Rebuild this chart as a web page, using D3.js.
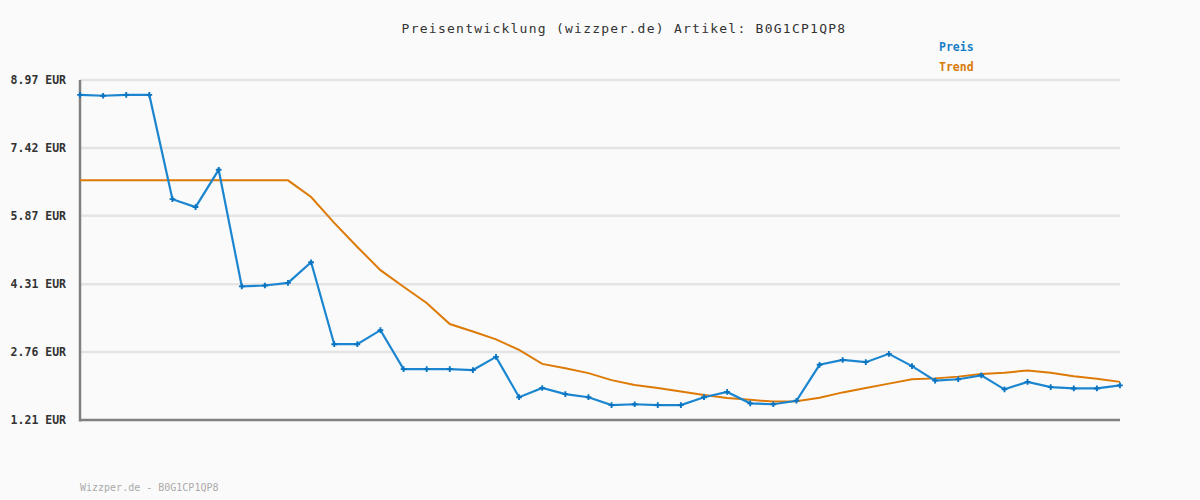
<!DOCTYPE html>
<html>
<head>
<meta charset="utf-8">
<script src="https://cdn.jsdelivr.net/npm/d3@7"></script>
<style>
  html, body { margin: 0; padding: 0; background: #fafafa; }
  svg { display: block; font-family: "DejaVu Sans Mono", monospace; }
</style>
</head>
<body>
<script>
  // price points, one per sample
  const preis = [
    8.63, 8.61, 8.63, 8.63, 6.25, 6.07, 6.92, 4.26, 4.28, 4.34,
    4.81, 2.94, 2.94, 3.26, 2.37, 2.37, 2.37, 2.35, 2.65, 1.73,
    1.94, 1.80, 1.73, 1.55, 1.57, 1.55, 1.55, 1.73, 1.85, 1.59,
    1.57, 1.65, 2.47, 2.58, 2.53, 2.72, 2.44, 2.11, 2.14, 2.23,
    1.91, 2.08, 1.96, 1.93, 1.93, 2.00
  ];
  const trend = [
    6.68, 6.68, 6.68, 6.68, 6.68, 6.68, 6.68, 6.68, 6.68, 6.68,
    6.30, 5.71, 5.16, 4.63, 4.25, 3.88, 3.40, 3.23, 3.05, 2.81,
    2.49, 2.39, 2.28, 2.12, 2.01, 1.94, 1.86, 1.78, 1.71, 1.67,
    1.63, 1.64, 1.72, 1.84, 1.94, 2.04, 2.14, 2.16, 2.20, 2.26,
    2.29, 2.34, 2.29, 2.21, 2.15, 2.08
  ];
  const yTicks = [1.21, 2.76, 4.31, 5.87, 7.42, 8.97];
  const seriesNames = ['Preis', 'Trend'];

(function() {
  'use strict';

  const w = 1200;
  const h = 500;
  const pLeft = 80, pRight = 1120, pTop = 80, pBottom = 420;
  const blue = '#1b86cf';
  const orange = '#dd7a06';

  const svg = d3.select('body').append('svg')
    .attr('width', w)
    .attr('height', h);

  const x = d3.scaleLinear().domain([0, preis.length - 1]).range([pLeft, pRight]);
  const y = d3.scaleLinear().domain([1.21, 8.97]).range([pBottom, pTop]);

  // grid lines
  svg.append('g')
    .selectAll('line')
    .data(yTicks.slice(1))
    .enter()
    .append('line')
    .attr('x1', pLeft)
    .attr('x2', pRight)
    .attr('y1', d => y(d))
    .attr('y2', d => y(d))
    .attr('stroke', '#e4e4e4')
    .attr('stroke-width', 2.5);

  // y axis labels
  const yAxis = d3.axisLeft(y)
    .tickValues(yTicks)
    .tickSize(0)
    .tickPadding(14)
    .tickFormat(d => d3.format('.2f')(d) + ' EUR');
  const gy = svg.append('g')
    .attr('transform', 'translate(' + pLeft + ',0)')
    .call(yAxis);
  gy.select('.domain').remove();
  gy.selectAll('text')
    .attr('font-family', '"DejaVu Sans Mono", monospace')
    .attr('font-size', 11.5)
    .attr('font-weight', 'bold')
    .attr('fill', '#333');

  // axis lines
  svg.append('line')
    .attr('x1', pLeft).attr('x2', pLeft)
    .attr('y1', pTop).attr('y2', pBottom + 1.5)
    .attr('stroke', '#808080').attr('stroke-width', 2.5);
  svg.append('line')
    .attr('x1', pLeft).attr('x2', pRight)
    .attr('y1', pBottom).attr('y2', pBottom)
    .attr('stroke', '#808080').attr('stroke-width', 2.5);

  const line = d3.line()
    .x((d, i) => x(i))
    .y(d => y(d));

  svg.append('path')
    .datum(trend)
    .attr('d', line)
    .attr('fill', 'none')
    .attr('stroke', orange)
    .attr('stroke-width', 2);

  svg.append('path')
    .datum(preis)
    .attr('d', line)
    .attr('fill', 'none')
    .attr('stroke', blue)
    .attr('stroke-width', 2.2);

  svg.append('g')
    .selectAll('path')
    .data(preis)
    .enter()
    .append('path')
    .attr('d', d3.symbol().type(d3.symbolCross).size(18))
    .attr('transform', (d, i) => 'translate(' + x(i) + ',' + y(d) + ')')
    .attr('fill', '#0a74c0');

  // title
  svg.append('text')
    .attr('x', 624)
    .attr('y', 33)
    .attr('text-anchor', 'middle')
    .attr('font-size', 13)
    .attr('letter-spacing', 1.25)
    .attr('fill', '#333')
    .text('Preisentwicklung (wizzper.de) Artikel: B0G1CP1QP8');

  // legend
  svg.append('g')
    .selectAll('text')
    .data(seriesNames)
    .enter()
    .append('text')
    .attr('x', 939)
    .attr('y', (d, i) => 51 + i * 20)
    .attr('font-size', 11.5)
    .attr('font-weight', 'bold')
    .attr('fill', (d, i) => i === 0 ? '#1a7fc8' : '#d97a0a')
    .text(d => d);

  // footer
  svg.append('text')
    .attr('x', 80)
    .attr('y', 491)
    .attr('font-size', 10)
    .attr('fill', '#aaa')
    .text('Wizzper.de - B0G1CP1QP8');
}());
</script>
</body>
</html>
